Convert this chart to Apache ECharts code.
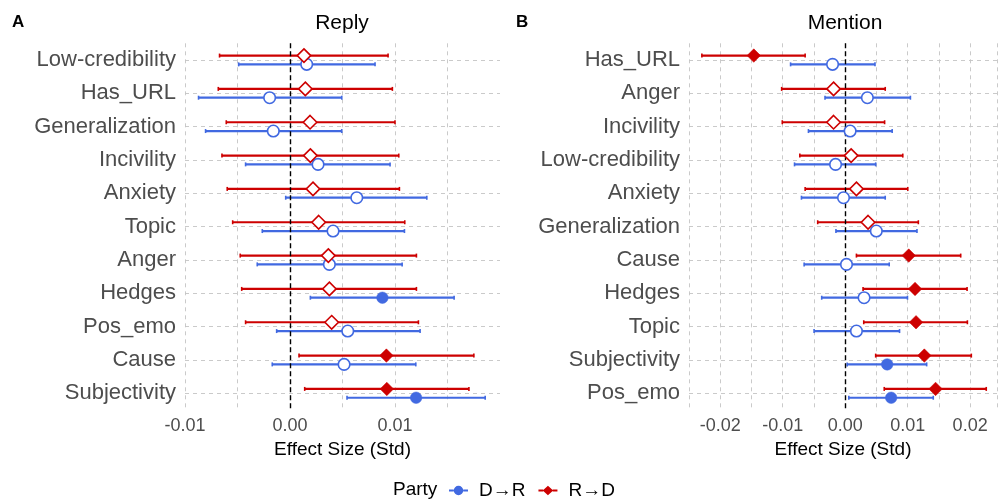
<!DOCTYPE html>
<html>
<head>
<meta charset="utf-8">
<script src="https://cdn.jsdelivr.net/npm/echarts@6/dist/echarts.min.js"></script>
<style>html,body{margin:0;padding:0;background:#fff}#c{width:1000px;height:500px}</style>
</head>
<body>
<div id="c"></div>
<script>
// ---------- Data ----------
const catsA = ['Low-credibility','Has_URL','Generalization','Incivility','Anxiety','Topic','Anger','Hedges','Pos_emo','Cause','Subjectivity'];
const A_RD_est = [0.00133, 0.00146, 0.00191, 0.00194, 0.00219, 0.00273, 0.00365, 0.00375, 0.00397, 0.00918, 0.00922];
const A_RD_lo  = [-0.00671, -0.00683, -0.00607, -0.00648, -0.00598, -0.00546, -0.00474, -0.0046, -0.00423, 0.00086, 0.0014];
const A_RD_hi  = [0.00934, 0.00975, 0.0100, 0.01036, 0.01042, 0.01093, 0.01204, 0.01204, 0.01223, 0.01751, 0.01704];
const A_RD_sig = [0,0,0,0,0,0,0,0,0,1,1];
const A_DR_est = [0.00159, -0.00194, -0.00159, 0.00267, 0.00636, 0.0041, 0.00375, 0.0088, 0.0055, 0.00515, 0.01201];
const A_DR_lo  = [-0.00489, -0.00871, -0.00804, -0.00423, -0.00041, -0.00264, -0.00312, 0.00194, -0.00127, -0.00169, 0.00543];
const A_DR_hi  = [0.0081, 0.00493, 0.00493, 0.00953, 0.01303, 0.0109, 0.01068, 0.01563, 0.01239, 0.01198, 0.01859];
const A_DR_sig = [0,0,0,0,0,0,0,1,0,0,1];

const catsB = ['Has_URL','Anger','Incivility','Low-credibility','Anxiety','Generalization','Cause','Hedges','Topic','Subjectivity','Pos_emo'];
const B_RD_est = [-0.01463, -0.00186, -0.00186, 0.00095, 0.0018, 0.00366, 0.01017, 0.01118, 0.01134, 0.01267, 0.01447];
const B_RD_lo  = [-0.02294, -0.01017, -0.01007, -0.00726, -0.00641, -0.0044, 0.0018, 0.00286, 0.00297, 0.00488, 0.00625];
const B_RD_hi  = [-0.00641, 0.00641, 0.00631, 0.00922, 0.01002, 0.01171, 0.01849, 0.01951, 0.01956, 0.02019, 0.02258];
const B_RD_sig = [1,0,0,0,0,0,1,1,1,1,1];
const B_DR_est = [-0.00202, 0.00355, 0.00079, -0.00154, -0.00027, 0.00498, 0.00021, 0.00302, 0.0018, 0.00672, 0.00736];
const B_DR_lo  = [-0.00874, -0.00323, -0.00588, -0.00811, -0.007, -0.00148, -0.00657, -0.00376, -0.00498, 0.00032, 0.00058];
const B_DR_hi  = [0.00477, 0.01044, 0.00752, 0.00488, 0.00641, 0.01149, 0.00705, 0.00997, 0.0087, 0.01304, 0.0141];
const B_DR_sig = [0,0,0,0,0,0,0,0,0,1,1];

const ticksA = ['-0.01','0.00','0.01'];
const ticksB = ['-0.02','-0.01','0.00','0.01','0.02'];

// ---------- Styling ----------
const BLUE = '#4169E1', RED = '#CD0000';
const FONT = '"Liberation Sans", Arial, Helvetica, sans-serif';
const GRIDC = '#c4c4c4';
const OFF_RD = -4.4, OFF_DR = 4.4;

function errRender(offset, color) {
  return function (params, api) {
    const a = api.coord([api.value(0), api.value(2)]);
    const b = api.coord([api.value(1), api.value(2)]);
    const y = a[1] + offset;
    const st = { stroke: color, lineWidth: 2.2, opacity: 1 };
    const cs = { stroke: color, lineWidth: 1.6, opacity: 1 };
    return { type: 'group', children: [
      { type: 'line', shape: { x1: a[0], y1: y, x2: b[0], y2: y }, style: st },
      { type: 'line', shape: { x1: a[0], y1: y - 2, x2: a[0], y2: y + 2 }, style: cs },
      { type: 'line', shape: { x1: b[0], y1: y - 2, x2: b[0], y2: y + 2 }, style: cs }
    ]};
  };
}
function errData(cats, lo, hi) { return cats.map((c, i) => [lo[i], hi[i], i]); }
function ptData(cats, est, sig, color) {
  return cats.map((c, i) => ({
    value: [est[i], i],
    itemStyle: sig[i] ? { color: color, borderColor: color, borderWidth: 0.5, opacity: 1 }
                      : { color: '#ffffff', borderColor: color, borderWidth: 1.6, opacity: 1 }
  }));
}
function labFmt(list) {
  return function (v) {
    const r = Math.round(v * 100);
    if (Math.abs(v * 100 - r) > 1e-6) return '';
    const s = (r / 100).toFixed(2);
    return list.indexOf(s) >= 0 ? s : '';
  };
}
function xAxisDef(gi, min, max, ticks, showMax) {
  return {
    type: 'value', gridIndex: gi, min: min, max: max, interval: 0.005,
    name: 'Effect Size (Std)', nameLocation: 'middle', nameGap: 30,
    nameTextStyle: { fontSize: 19, color: '#000', fontFamily: FONT },
    axisLine: { show: false }, axisTick: { show: false },
    axisLabel: { formatter: labFmt(ticks), fontSize: 18, color: '#4d4d4d', fontFamily: FONT, margin: 7 },
    splitLine: { show: true, showMaxLine: showMax, lineStyle: { color: GRIDC, width: 0.9, type: [4, 4] } }
  };
}
function yAxisDef(gi, cats) {
  return {
    type: 'category', gridIndex: gi, data: cats, inverse: true,
    axisLine: { show: false }, axisTick: { show: false, alignWithLabel: true },
    axisLabel: { fontSize: 22, color: '#4d4d4d', fontFamily: FONT, margin: 9 },
    splitLine: { show: true, alignWithLabel: true, lineStyle: { color: GRIDC, width: 0.9, type: [4, 4] } }
  };
}
function zeroLine() {
  return {
    silent: true, symbol: ['none', 'none'], label: { show: false },
    lineStyle: { color: '#000', width: 1.4, type: [5, 3], opacity: 1 },
    data: [{ xAxis: 0 }]
  };
}

const circleIcon = 'path://M0 4 L5 4 L5 6 L0 6 Z M5 5 A5 5 0 1 1 15 5 A5 5 0 1 1 5 5 Z M15 4 L20 4 L20 6 L15 6 Z';
const diamondIcon = 'path://M0 4 L5 4 L5 6 L0 6 Z M4.5 5 L10 0 L15.5 5 L10 10 Z M15 4 L20 4 L20 6 L15 6 Z';

const series = [];
function addPanel(gi, cats, dr, rd) {
  series.push({
    type: 'scatter', name: 'zero' + gi, xAxisIndex: gi, yAxisIndex: gi, z: 1,
    symbolSize: 0, data: [], markLine: zeroLine(), silent: true
  });
  series.push({
    type: 'custom', name: 'errDR' + gi, xAxisIndex: gi, yAxisIndex: gi, z: 2,
    renderItem: errRender(OFF_DR, BLUE), itemStyle: { color: BLUE },
    encode: { x: [0, 1], y: 2 }, data: errData(cats, dr.lo, dr.hi), silent: true
  });
  series.push({
    type: 'custom', name: 'errRD' + gi, xAxisIndex: gi, yAxisIndex: gi, z: 2,
    renderItem: errRender(OFF_RD, RED), itemStyle: { color: RED },
    encode: { x: [0, 1], y: 2 }, data: errData(cats, rd.lo, rd.hi), silent: true
  });
  series.push({
    type: 'scatter', name: 'D→R', xAxisIndex: gi, yAxisIndex: gi, z: 5,
    symbol: 'circle', symbolSize: 11.5, symbolOffset: [0, OFF_DR],
    itemStyle: { color: BLUE, opacity: 1 }, data: ptData(cats, dr.est, dr.sig, BLUE), silent: true
  });
  series.push({
    type: 'scatter', name: 'R→D', xAxisIndex: gi, yAxisIndex: gi, z: 6,
    symbol: 'diamond', symbolSize: 13.5, symbolOffset: [0, OFF_RD],
    itemStyle: { color: RED, opacity: 1 }, data: ptData(cats, rd.est, rd.sig, RED), silent: true
  });
}
addPanel(0, catsA, { est: A_DR_est, lo: A_DR_lo, hi: A_DR_hi, sig: A_DR_sig },
                   { est: A_RD_est, lo: A_RD_lo, hi: A_RD_hi, sig: A_RD_sig });
addPanel(1, catsB, { est: B_DR_est, lo: B_DR_lo, hi: B_DR_hi, sig: B_DR_sig },
                   { est: B_RD_est, lo: B_RD_lo, hi: B_RD_hi, sig: B_RD_sig });

const chart = echarts.init(document.getElementById('c'), null, { renderer: 'canvas' });
chart.setOption({
  animation: false,
  backgroundColor: '#ffffff',
  textStyle: { fontFamily: FONT },
  title: [
    { text: 'A', left: 12, top: 14, padding: 0, textStyle: { fontSize: 17, fontWeight: 'bold', color: '#000', fontFamily: FONT } },
    { text: 'Reply', left: 342, top: 13, padding: 0, textAlign: 'center', textStyle: { fontSize: 21, fontWeight: 'normal', color: '#000', fontFamily: FONT } },
    { text: 'B', left: 516, top: 14, padding: 0, textStyle: { fontSize: 17, fontWeight: 'bold', color: '#000', fontFamily: FONT } },
    { text: 'Mention', left: 845, top: 13, padding: 0, textAlign: 'center', textStyle: { fontSize: 21, fontWeight: 'normal', color: '#000', fontFamily: FONT } },
    { text: 'Party', left: 393, top: 480, padding: 0, textStyle: { fontSize: 19, fontWeight: 'normal', color: '#000', fontFamily: FONT } }
  ],
  legend: {
    left: 449, top: 481, padding: 0, itemWidth: 19, itemHeight: 10, itemGap: 13,
    textStyle: { fontSize: 19, color: '#000', fontFamily: FONT, padding: [0, 0, 0, 6] },
    selectedMode: false,
    data: [
      { name: 'D→R', icon: circleIcon, itemStyle: { color: BLUE, borderWidth: 0, opacity: 1 } },
      { name: 'R→D', icon: diamondIcon, itemStyle: { color: RED, borderWidth: 0, opacity: 1 } }
    ]
  },
  grid: [
    { left: 185, width: 315, top: 43.3, bottom: 90 },
    { left: 689, right: 0, top: 43.3, bottom: 90 }
  ],
  xAxis: [
    xAxisDef(0, -0.01, 0.02, ticksA, false),
    xAxisDef(1, -0.025, 0.0243, ticksB, true)
  ],
  yAxis: [yAxisDef(0, catsA), yAxisDef(1, catsB)],
  series: series
});
</script>
</body>
</html>
